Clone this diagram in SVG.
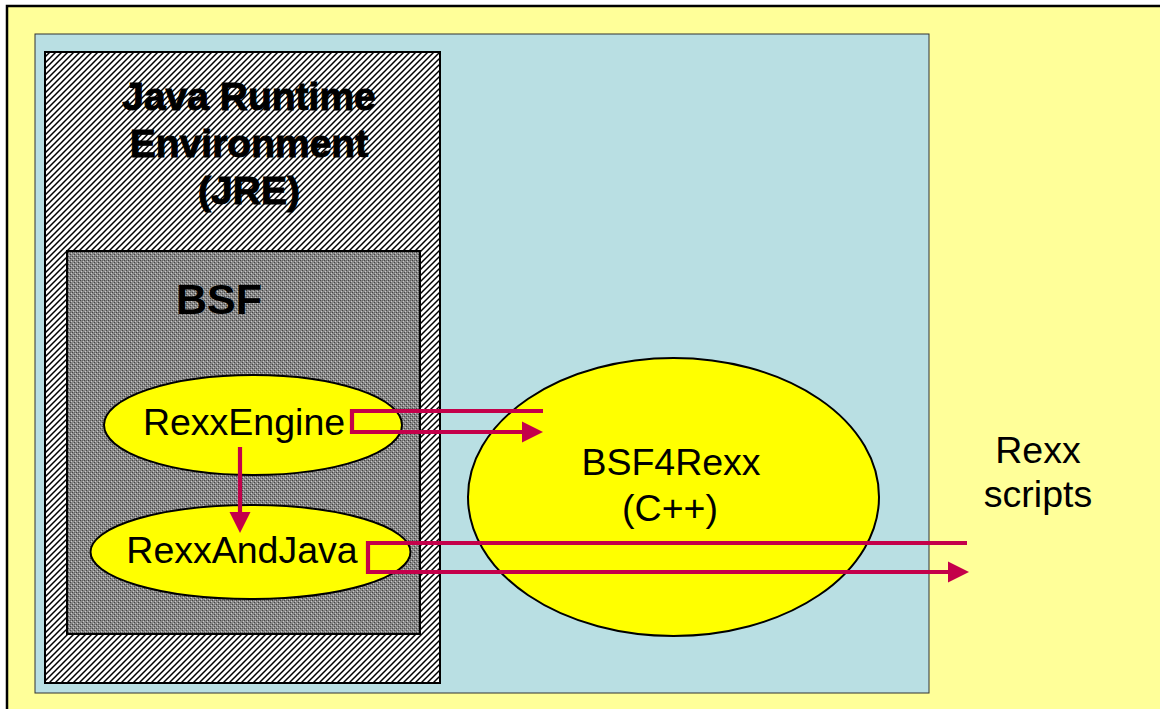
<svg xmlns="http://www.w3.org/2000/svg" width="1160" height="709" viewBox="0 0 1160 709">
<style>
.lbl{font-family:"Liberation Sans",Arial,sans-serif;font-size:37.5px;fill:#000;text-anchor:middle}
.bold{font-weight:bold}
.jre{font-size:39px;stroke:#000;stroke-width:1}
.node{fill:#FFFF00;stroke:#000;stroke-width:2}
.conn{fill:none;stroke:#C4004A;stroke-width:4.2}
</style>
<defs>
<pattern id="hatch" patternUnits="userSpaceOnUse" width="6" height="6">
<rect width="6" height="6" fill="#fff"/>
<path d="M-1,1 L1,-1 M0,6 L6,0 M5,7 L7,5" stroke="#000" stroke-width="1.5"/>
</pattern>
<pattern id="dither" patternUnits="userSpaceOnUse" width="4" height="4">
<rect width="4" height="4" fill="#888888"/>
<rect x="0" y="0" width="1" height="1" fill="#444"/>
<rect x="2" y="2" width="1" height="1" fill="#444"/>
<rect x="2" y="0" width="1" height="1" fill="#666"/>
<rect x="1" y="3" width="1" height="1" fill="#c8c8c8"/>
<rect x="3" y="1" width="1" height="1" fill="#c8c8c8"/>
</pattern>
<marker id="arrow" markerUnits="userSpaceOnUse" viewBox="0 0 22 22" markerWidth="22" markerHeight="22" refX="0" refY="11" orient="auto">
<path d="M0,0.5 L21,11 L0,21.5 Z" fill="#C4004A"/>
</marker>
<clipPath id="clipEngine">
<rect x="0" y="0" width="380" height="709"/>
<rect x="380" y="0" width="200" height="453"/>
</clipPath>
<clipPath id="clipAndJava">
<rect x="0" y="0" width="393" height="709"/>
<rect x="393" y="527" width="200" height="50"/>
</clipPath>
</defs>

<g id="background">
<rect x="7" y="6" width="1170" height="720" fill="#FFFF99" stroke="#000" stroke-width="2.5"/>
</g>

<g id="process">
<rect x="35" y="34" width="894" height="659" fill="#B9DFE3" stroke="#333" stroke-width="1"/>
</g>

<g id="jre">
<rect x="45" y="52" width="395" height="631" fill="url(#hatch)" stroke="#000" stroke-width="2"/>
<text class="lbl bold jre" x="249" y="110">Java Runtime</text>
<text class="lbl bold jre" x="249" y="157">Environment</text>
<text class="lbl bold jre" x="249" y="204">(JRE)</text>
</g>

<g id="bsf">
<rect x="67" y="251" width="353" height="383" fill="url(#dither)" stroke="#000" stroke-width="2"/>
<text class="lbl bold" x="219" y="314" style="font-size:43px">BSF</text>
</g>

<g id="rexxengine">
<ellipse class="node" cx="253" cy="425" rx="149" ry="50" clip-path="url(#clipEngine)"/>
<text class="lbl" x="244" y="435">RexxEngine</text>
</g>

<g id="rexxandjava">
<ellipse class="node" cx="250.5" cy="552" rx="160" ry="47" clip-path="url(#clipAndJava)"/>
<text class="lbl" x="242" y="563">RexxAndJava</text>
</g>

<g id="bsf4rexx">
<ellipse class="node" cx="673.5" cy="497" rx="205.5" ry="139"/>
<text class="lbl" x="671" y="475">BSF4Rexx</text>
<text class="lbl" x="670" y="521">(C++)</text>
</g>

<g id="rexxscripts">
<text class="lbl" x="1038" y="463">Rexx</text>
<text class="lbl" x="1038" y="507">scripts</text>
</g>

<g id="connectors">
<path class="conn" d="M543,411 H352 V432 H522" marker-end="url(#arrow)"/>
<path class="conn" d="M967,543 H368 V572 H948" marker-end="url(#arrow)"/>
<path class="conn" d="M240,447 V512" marker-end="url(#arrow)"/>
</g>
</svg>
